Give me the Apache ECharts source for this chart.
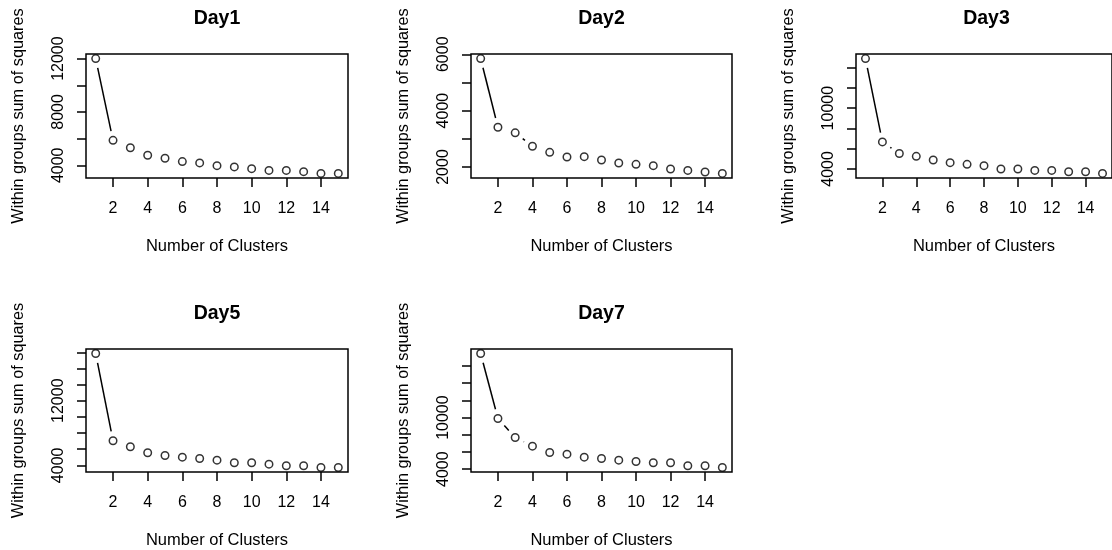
<!DOCTYPE html>
<html>
<head>
<meta charset="utf-8">
<script src="https://cdn.jsdelivr.net/npm/echarts@6/dist/echarts.min.js"></script>
<style>
  html, body { margin: 0; background: #fff; }
  #chart { width: 1112px; height: 550px; }
</style>
</head>
<body>
<div id="chart"></div>
<script>
// elbow curves, one per day
const clusters = [1, 2, 3, 4, 5, 6, 7, 8, 9, 10, 11, 12, 13, 14, 15];
const day1 = [12000, 5870, 5317, 4757, 4530, 4280, 4182, 3977, 3879, 3750, 3621, 3621, 3523, 3394, 3394];
const day2 = [5846, 3410, 3211, 2734, 2520, 2356, 2367, 2249, 2142, 2093, 2046, 1929, 1879, 1822, 1772];
const day3 = [14892, 6666, 5520, 5239, 4882, 4614, 4446, 4317, 3990, 3990, 3851, 3851, 3722, 3722, 3554];
const day5 = [17839, 7042, 6300, 5558, 5224, 5014, 4853, 4643, 4322, 4322, 4148, 3950, 3950, 3740, 3740];
const day7 = [17453, 9895, 7686, 6674, 5942, 5744, 5395, 5244, 5047, 4895, 4744, 4744, 4395, 4395, 4198];

const titles = ['Day1', 'Day2', 'Day3', 'Day5', 'Day7'];
const xTicks = [2, 4, 6, 8, 10, 12, 14];
// R draws every tick but drops labels that would collide
const day1YTicks = [4000, 6000, 8000, 10000, 12000];
const day1YLabels = [4000, 8000, 12000];
const day2YTicks = [2000, 3000, 4000, 5000, 6000];
const day2YLabels = [2000, 4000, 6000];
const day3YTicks = [4000, 6000, 8000, 10000, 12000, 14000];
const day3YLabels = [4000, 10000];
const day5YTicks = [4000, 6000, 8000, 10000, 12000, 14000, 16000, 18000];
const day5YLabels = [4000, 12000];
const day7YTicks = [4000, 6000, 8000, 10000, 12000, 14000, 16000];
const day7YLabels = [4000, 10000];

const FONT = '"Liberation Sans", Arial, sans-serif';
const GAP = 9.5; // type="b": segments stop short of the circles
const INK = 1.5;

// plot boxes [left, top, width, height]; Day3 runs off the right edge like the original
const boxes = [[86, 54, 262, 124], [471, 54, 261, 124], [856, 54, 261, 124], [86, 349, 262, 124], [471, 349, 261, 124]];

const panels = [
  { values: day1, yTicks: day1YTicks, yLabels: day1YLabels },
  { values: day2, yTicks: day2YTicks, yLabels: day2YLabels },
  { values: day3, yTicks: day3YTicks, yLabels: day3YLabels },
  { values: day5, yTicks: day5YTicks, yLabels: day5YLabels },
  { values: day7, yTicks: day7YTicks, yLabels: day7YLabels },
];

// R default axis range: data range padded 4% each side
const pad = (lo, hi) => [lo - (hi - lo) * 0.04, hi + (hi - lo) * 0.04];
const [xMin, xMax] = pad(Math.min(...clusters), Math.max(...clusters));

const grid = [], xAxis = [], yAxis = [], series = [], graphic = [];

panels.forEach((p, i) => {
  const [left, top, width, height] = boxes[i];
  const [yMin, yMax] = pad(Math.min(...p.values), Math.max(...p.values));

  grid.push({ left, top, width, height, show: true, borderColor: '#000', borderWidth: INK, backgroundColor: 'transparent' });

  xAxis.push({
    type: 'value', gridIndex: i, min: xMin, max: xMax,
    name: 'Number of Clusters', nameLocation: 'middle', nameGap: 60,
    nameTextStyle: { fontFamily: FONT, fontSize: 16.5, color: '#000' },
    axisLine: { show: false },
    axisTick: { show: true, customValues: xTicks, length: 9, lineStyle: { color: '#000', width: INK } },
    axisLabel: { customValues: xTicks, margin: 23, fontFamily: FONT, fontSize: 16, color: '#000' },
    splitLine: { show: false },
  });

  yAxis.push({
    type: 'value', gridIndex: i, min: yMin, max: yMax,
    name: 'Within groups sum of squares', nameLocation: 'middle', nameGap: 59,
    nameTextStyle: { fontFamily: FONT, fontSize: 16.3, color: '#000' },
    axisLine: { show: false },
    axisTick: { show: true, customValues: p.yTicks, length: 9, lineStyle: { color: '#000', width: INK } },
    axisLabel: {
      customValues: p.yLabels, rotate: 90, margin: 19,
      formatter: v => String(Math.round(v)),
      fontFamily: FONT, fontSize: 16, color: '#000',
    },
    splitLine: { show: false },
  });

  const pts = clusters.map((c, k) => [c, p.values[k]]);
  const segs = pts.slice(1).map((pt, k) => [pts[k][0], pts[k][1], pt[0], pt[1]]);

  series.push({
    type: 'custom', xAxisIndex: i, yAxisIndex: i, silent: true,
    data: segs,
    renderItem: (params, api) => {
      const a = api.coord([api.value(0), api.value(1)]);
      const b = api.coord([api.value(2), api.value(3)]);
      const dx = b[0] - a[0], dy = b[1] - a[1];
      const len = Math.hypot(dx, dy);
      if (len <= 2 * GAP) return { type: 'group', children: [] };
      const ux = dx / len, uy = dy / len;
      return {
        type: 'line',
        shape: { x1: a[0] + ux * GAP, y1: a[1] + uy * GAP, x2: b[0] - ux * GAP, y2: b[1] - uy * GAP },
        style: { stroke: '#000', lineWidth: INK },
      };
    },
  });

  series.push({
    type: 'scatter', xAxisIndex: i, yAxisIndex: i, silent: true,
    data: pts, symbol: 'circle', symbolSize: 7.5,
    itemStyle: { color: '#fff', borderColor: '#000', borderWidth: INK },
  });

  graphic.push({
    type: 'text', x: left + width / 2, y: top - 35,
    style: { text: titles[i], font: 'bold 19.5px ' + FONT, fill: '#000', align: 'center', verticalAlign: 'middle' },
  });
});

const chart = echarts.init(document.getElementById('chart'), null, { renderer: 'canvas' });
chart.setOption({ animation: false, backgroundColor: '#fff', grid, xAxis, yAxis, series, graphic });
</script>
</body>
</html>
